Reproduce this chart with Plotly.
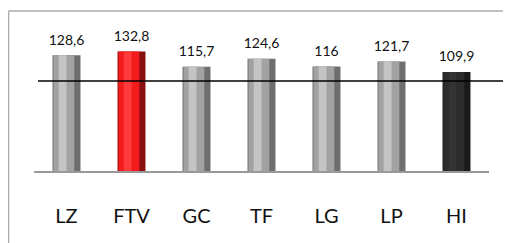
import plotly.graph_objects as go

categories = ["LZ", "FTV", "GC", "TF", "LG", "LP", "HI"]
values = [128.6, 132.8, 115.7, 124.6, 116, 121.7, 109.9]
reference_value = 100

edge_colors = ["#6e6e6e", "#8a1010", "#6e6e6e", "#6e6e6e", "#6e6e6e", "#6e6e6e", "#1a1a1a"]
mid_colors = ["#a2a2a2", "#f21c1c", "#a2a2a2", "#a2a2a2", "#a2a2a2", "#a2a2a2", "#2c2c2c"]
light_colors = ["#c4c4c4", "#ff3a3a", "#c4c4c4", "#c4c4c4", "#c4c4c4", "#c4c4c4", "#333333"]

fig = go.Figure()
fig.add_trace(go.Bar(x=categories, y=values, width=0.43, marker=dict(color=edge_colors, line=dict(width=0)),
                     hoverinfo="skip"))
fig.add_trace(go.Bar(x=categories, y=values, width=0.32, offset=-0.2,
                     marker=dict(color=mid_colors, line=dict(width=0)), hoverinfo="skip"))
fig.add_trace(go.Bar(x=categories, y=values, width=0.12, offset=-0.12,
                     marker=dict(color=light_colors, line=dict(width=0)), hoverinfo="skip"))
fig.add_trace(go.Scatter(x=categories, y=values, mode="markers+text",
                         marker=dict(size=10, color="rgba(0,0,0,0)"),
                         texttemplate="%{y}", textposition="top center",
                         textfont=dict(family="Lato", size=14, color="#111"),
                         cliponaxis=False, hoverinfo="skip"))

# the page body adds an 8px offset; margins compensate so the plot lands where the reference has it
W, H = 511, 243
ml, mr, mt, mb = 26, 30, 12, 80
pw = W - ml - mr
ph = H - mt - mb

fig.update_layout(
    width=W, height=H,
    margin=dict(l=ml, r=mr, t=mt, b=mb),
    barmode="overlay",
    showlegend=False,
    paper_bgcolor="white",
    plot_bgcolor="white",
    separators=",.",
    xaxis=dict(showline=True, linecolor="#999999", linewidth=2, ticks="",
               tickfont=dict(family="Lato", size=20, color="#111"),
               ticklabelstandoff=26, range=[-0.5, 6.5]),
    yaxis=dict(range=[0, ph / 0.9], visible=False, showgrid=False, zeroline=False),
    shapes=[
        dict(type="line", xref="paper", yref="y", x0=(30 - ml) / pw, x1=(W - ml) / pw,
             y0=reference_value, y1=reference_value, line=dict(color="black", width=1.6)),
        dict(type="line", xref="paper", yref="paper", x0=(0.5 - ml) / pw, x1=(W - ml) / pw,
             y0=(H - mb - 3) / ph, y1=(H - mb - 3) / ph, line=dict(color="#aaaaaa", width=1.5)),
        dict(type="line", xref="paper", yref="paper", x0=(0.5 - ml) / pw, x1=(0.5 - ml) / pw,
             y0=(H - mb - 3) / ph, y1=-mb / ph, line=dict(color="#aaaaaa", width=1.5)),
    ],
)

fig.write_html("out.html")
